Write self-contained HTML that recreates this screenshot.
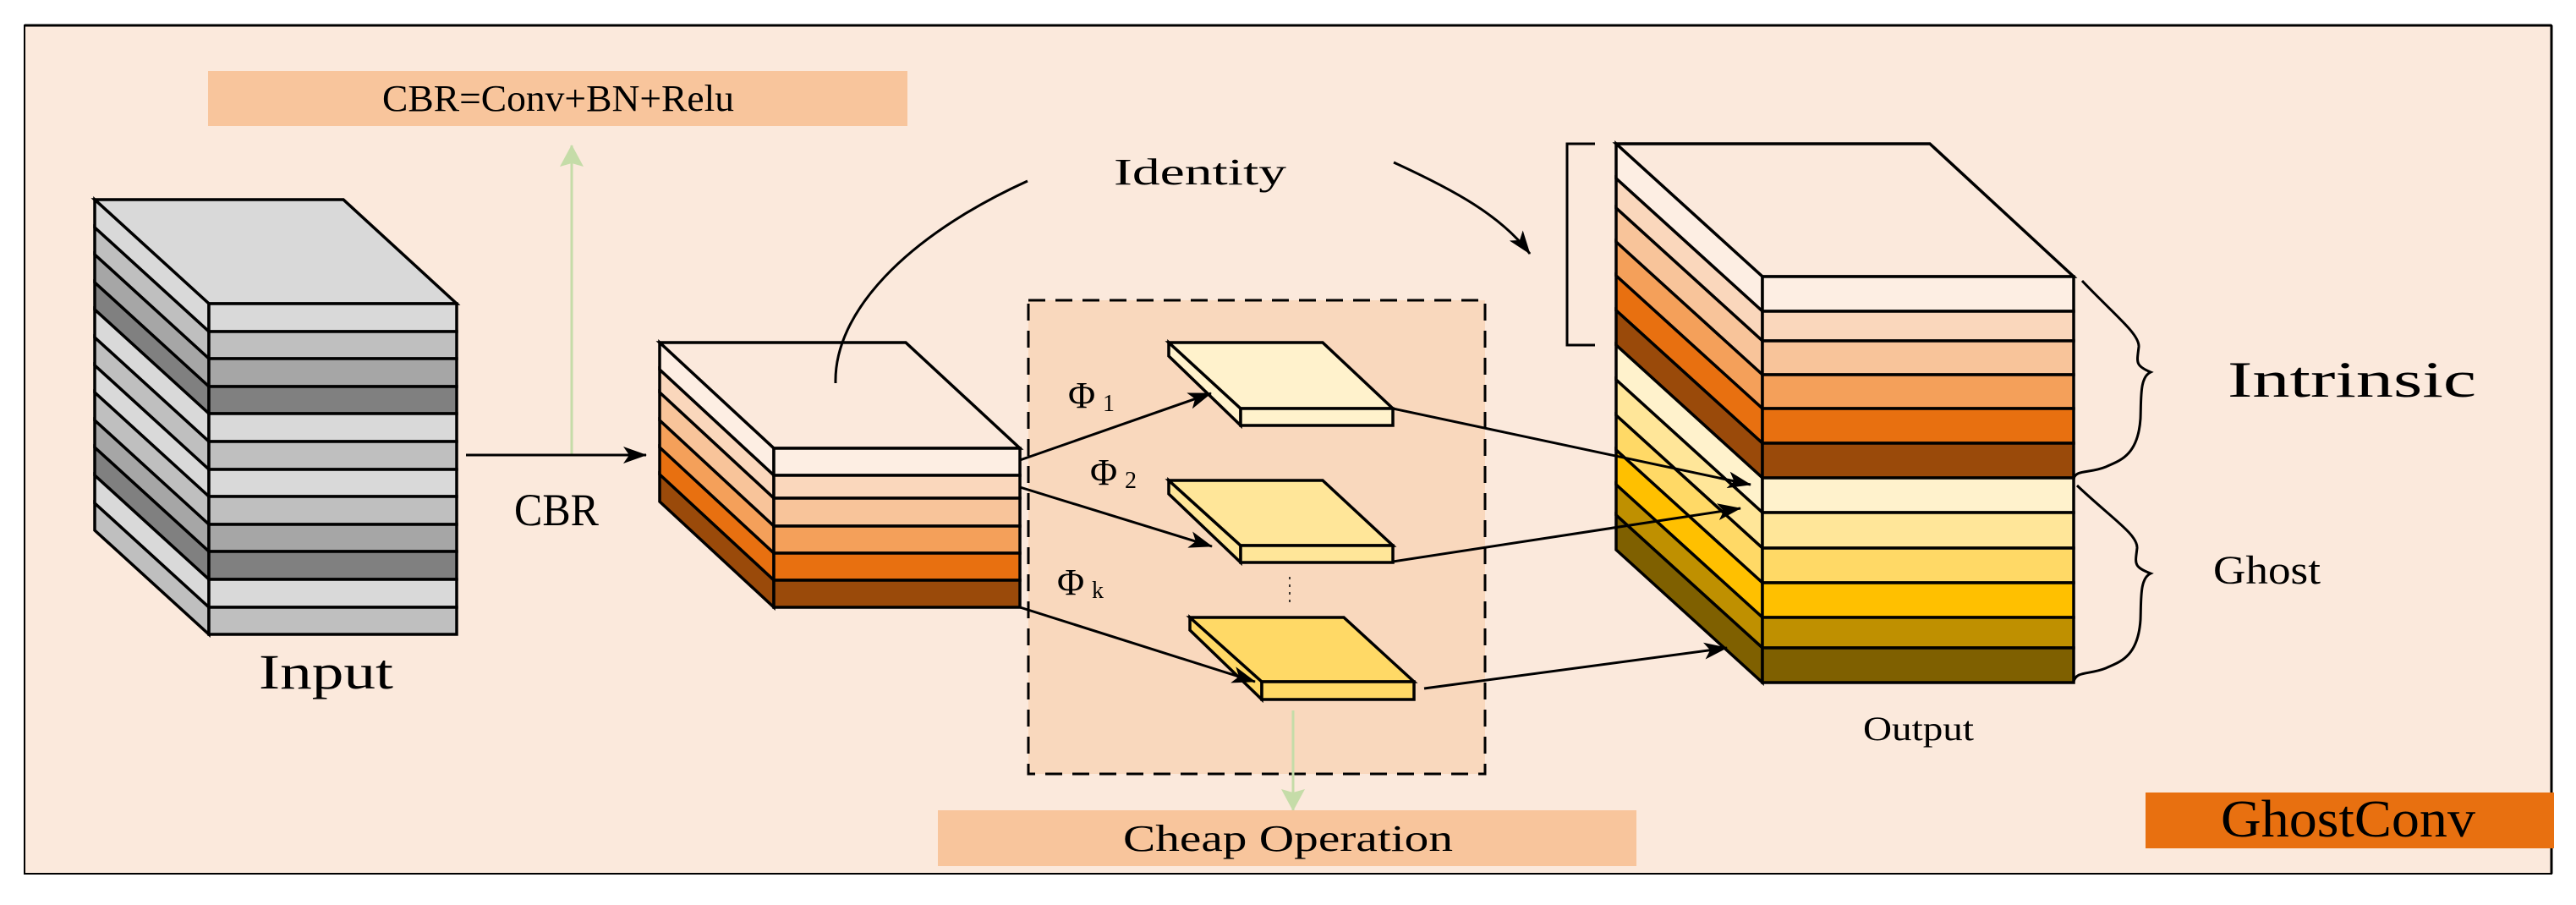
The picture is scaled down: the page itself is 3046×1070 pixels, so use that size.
<!DOCTYPE html>
<html><head><meta charset="utf-8"><style>html,body{margin:0;padding:0;background:#fff}svg{display:block}text{font-family:"Liberation Serif",serif;fill:#000}</style></head>
<body>
<svg width="3046" height="1070" viewBox="0 0 3046 1070" xmlns="http://www.w3.org/2000/svg">
<defs>
<marker id="ah" viewBox="0 0 28 20" refX="27" refY="10" markerWidth="28" markerHeight="20" markerUnits="userSpaceOnUse" orient="auto"><path d="M0,0 L28,10 L0,20 L7,10 Z" fill="#000"/></marker>
<marker id="ag" viewBox="0 0 26 28" refX="25" refY="14" markerWidth="26" markerHeight="28" markerUnits="userSpaceOnUse" orient="auto"><path d="M0,0 L26,14 L0,28 L4,14 Z" fill="#c5dca8"/></marker>
</defs>
<rect x="29" y="30" width="2988" height="1003" fill="#fbe9dc" stroke="#000" stroke-width="2"/>
<line x1="3017" y1="30" x2="3017" y2="1033" stroke="#000" stroke-width="3"/>
<line x1="29" y1="30" x2="3017" y2="30" stroke="#000" stroke-width="3"/>

<rect x="246" y="84" width="827" height="65" fill="#f8c59c"/>
<text x="452" y="131" font-size="44" textLength="416" lengthAdjust="spacingAndGlyphs">CBR=Conv+BN+Relu</text>
<line x1="676" y1="538" x2="676" y2="172" stroke="#c5dca8" stroke-width="3" marker-end="url(#ag)"/>

<g stroke="#000" stroke-width="3.5">
<polygon points="112,236 406,236 540,359 247,359" fill="#d9d9d9"/>
<polygon points="112,236 247,359 247,392 112,269" fill="#d9d9d9"/>
<polygon points="112,269 247,392 247,424 112,301" fill="#bfbfbf"/>
<polygon points="112,301 247,424 247,457 112,334" fill="#a6a6a6"/>
<polygon points="112,334 247,457 247,489 112,366" fill="#808080"/>
<polygon points="112,366 247,489 247,522 112,399" fill="#d9d9d9"/>
<polygon points="112,399 247,522 247,555 112,432" fill="#bfbfbf"/>
<polygon points="112,432 247,555 247,587 112,464" fill="#d9d9d9"/>
<polygon points="112,464 247,587 247,620 112,497" fill="#bfbfbf"/>
<polygon points="112,497 247,620 247,652 112,529" fill="#a6a6a6"/>
<polygon points="112,529 247,652 247,685 112,562" fill="#808080"/>
<polygon points="112,562 247,685 247,718 112,595" fill="#d9d9d9"/>
<polygon points="112,595 247,718 247,750 112,627" fill="#bfbfbf"/>
<rect x="247" y="359" width="293" height="33" fill="#d9d9d9"/>
<rect x="247" y="392" width="293" height="32" fill="#bfbfbf"/>
<rect x="247" y="424" width="293" height="33" fill="#a6a6a6"/>
<rect x="247" y="457" width="293" height="32" fill="#808080"/>
<rect x="247" y="489" width="293" height="33" fill="#d9d9d9"/>
<rect x="247" y="522" width="293" height="33" fill="#bfbfbf"/>
<rect x="247" y="555" width="293" height="32" fill="#d9d9d9"/>
<rect x="247" y="587" width="293" height="33" fill="#bfbfbf"/>
<rect x="247" y="620" width="293" height="32" fill="#a6a6a6"/>
<rect x="247" y="652" width="293" height="33" fill="#808080"/>
<rect x="247" y="685" width="293" height="33" fill="#d9d9d9"/>
<rect x="247" y="718" width="293" height="32" fill="#bfbfbf"/>
</g>
<text x="306" y="814" font-size="58" textLength="159" lengthAdjust="spacingAndGlyphs">Input</text>

<line x1="551" y1="538" x2="764" y2="538" stroke="#000" stroke-width="3" marker-end="url(#ah)"/>
<text x="608" y="621" font-size="54" textLength="100" lengthAdjust="spacingAndGlyphs">CBR</text>

<g stroke="#000" stroke-width="3.5">
<polygon points="780,405 1071,405 1206,530 915,530" fill="#fbe9dc"/>
<polygon points="780,405 915,530 915,562 780,437" fill="#fdeee3"/>
<polygon points="780,437 915,562 915,589 780,464" fill="#fad7bc"/>
<polygon points="780,464 915,589 915,622 780,497" fill="#f8c49a"/>
<polygon points="780,497 915,622 915,654 780,529" fill="#f4a05a"/>
<polygon points="780,529 915,654 915,686 780,561" fill="#e87010"/>
<polygon points="780,561 915,686 915,718 780,593" fill="#9a4a0a"/>
<rect x="915" y="530" width="291" height="32" fill="#fdeee3"/>
<rect x="915" y="562" width="291" height="27" fill="#fad7bc"/>
<rect x="915" y="589" width="291" height="33" fill="#f8c49a"/>
<rect x="915" y="622" width="291" height="32" fill="#f4a05a"/>
<rect x="915" y="654" width="291" height="32" fill="#e87010"/>
<rect x="915" y="686" width="291" height="32" fill="#9a4a0a"/>
</g>

<path d="M988,453 C986,370 1070,280 1215,214" fill="none" stroke="#000" stroke-width="3"/>
<text x="1317" y="218" font-size="44" textLength="204" lengthAdjust="spacingAndGlyphs">Identity</text>
<path d="M1648,192 C1720,225 1775,255 1809,300" fill="none" stroke="#000" stroke-width="3" marker-end="url(#ah)"/>

<rect x="1216" y="355" width="540" height="560" fill="#f9d8bd" stroke="#000" stroke-width="3" stroke-dasharray="20,12"/>

<g stroke="#000" stroke-width="3.5">
<polygon points="1382,405 1382,421 1467,503 1467,483" fill="#fff2cc"/>
<polygon points="1382,405 1564,405 1647,483 1467,483" fill="#fff2cc"/>
<rect x="1467" y="483" width="180" height="20" fill="#fff2cc"/>
<polygon points="1382,568 1382,584 1467,665 1467,645" fill="#ffe699"/>
<polygon points="1382,568 1564,568 1647,645 1467,645" fill="#ffe699"/>
<rect x="1467" y="645" width="180" height="20" fill="#ffe699"/>
<polygon points="1407,730 1407,745 1492,827 1492,806" fill="#ffd966"/>
<polygon points="1407,730 1589,730 1672,806 1492,806" fill="#ffd966"/>
<rect x="1492" y="806" width="180" height="21" fill="#ffd966"/>
</g>
<line x1="1525" y1="682" x2="1525" y2="712" stroke="#000" stroke-width="1.5" stroke-dasharray="3,6"/>

<text x="1263" y="482" font-size="44">Φ</text><text x="1304" y="486" font-size="28">1</text>
<text x="1289" y="573" font-size="44">Φ</text><text x="1330" y="577" font-size="28">2</text>
<text x="1250" y="703" font-size="44">Φ</text><text x="1291" y="707" font-size="28">k</text>

<g stroke="#000" stroke-width="3" fill="none">
<line x1="1206" y1="544" x2="1432" y2="465" marker-end="url(#ah)"/>
<line x1="1206" y1="576" x2="1433" y2="646" marker-end="url(#ah)"/>
<line x1="1206" y1="718" x2="1484" y2="806" marker-end="url(#ah)"/>
</g>

<line x1="1529" y1="840" x2="1529" y2="958" stroke="#c5dca8" stroke-width="3" marker-end="url(#ag)"/>
<rect x="1109" y="958" width="826" height="66" fill="#f8c59c"/>
<text x="1328" y="1006" font-size="44" textLength="390" lengthAdjust="spacingAndGlyphs">Cheap Operation</text>

<path d="M1886,170 L1853,170 L1853,408 L1886,408" fill="none" stroke="#000" stroke-width="3"/>

<g stroke="#000" stroke-width="3.5">
<polygon points="1911,170 2282,170 2452,327 2084,327" fill="#fbe9dc"/>
<polygon points="1911,170 2084,327 2084,368 1911,211" fill="#fdeee3"/>
<polygon points="1911,211 2084,368 2084,403 1911,246" fill="#fad7bc"/>
<polygon points="1911,246 2084,403 2084,443 1911,286" fill="#f8c49a"/>
<polygon points="1911,286 2084,443 2084,483 1911,326" fill="#f4a05a"/>
<polygon points="1911,326 2084,483 2084,524 1911,367" fill="#e87010"/>
<polygon points="1911,367 2084,524 2084,565 1911,408" fill="#9a4a0a"/>
<polygon points="1911,408 2084,565 2084,606 1911,449" fill="#fff2cc"/>
<polygon points="1911,449 2084,606 2084,648 1911,491" fill="#ffe699"/>
<polygon points="1911,491 2084,648 2084,689 1911,532" fill="#ffd966"/>
<polygon points="1911,532 2084,689 2084,730 1911,573" fill="#ffc000"/>
<polygon points="1911,573 2084,730 2084,766 1911,609" fill="#bf9000"/>
<polygon points="1911,609 2084,766 2084,807 1911,650" fill="#7f6000"/>
<rect x="2084" y="327" width="368" height="41" fill="#fdeee3"/>
<rect x="2084" y="368" width="368" height="35" fill="#fad7bc"/>
<rect x="2084" y="403" width="368" height="40" fill="#f8c49a"/>
<rect x="2084" y="443" width="368" height="40" fill="#f4a05a"/>
<rect x="2084" y="483" width="368" height="41" fill="#e87010"/>
<rect x="2084" y="524" width="368" height="41" fill="#9a4a0a"/>
<rect x="2084" y="565" width="368" height="41" fill="#fff2cc"/>
<rect x="2084" y="606" width="368" height="42" fill="#ffe699"/>
<rect x="2084" y="648" width="368" height="41" fill="#ffd966"/>
<rect x="2084" y="689" width="368" height="41" fill="#ffc000"/>
<rect x="2084" y="730" width="368" height="36" fill="#bf9000"/>
<rect x="2084" y="766" width="368" height="41" fill="#7f6000"/>
</g>

<g stroke="#000" stroke-width="3" fill="none">
<line x1="1647" y1="483" x2="2070" y2="573" marker-end="url(#ah)"/>
<line x1="1647" y1="664" x2="2058" y2="601" marker-end="url(#ah)"/>
<line x1="1684" y1="814" x2="2042" y2="766" marker-end="url(#ah)"/>
</g>

<g fill="none" stroke="#000" stroke-width="3">
<path d="M2462,332 C2500,372 2530,395 2529,410 C2527,428 2524,432 2543,440 C2530,446 2532,470 2531,495 C2528,540 2505,545 2490,552 C2470,560 2455,555 2452,566"/>
<path d="M2456,574 C2496,612 2528,632 2527,648 C2525,666 2522,670 2543,678 C2530,684 2532,708 2531,733 C2528,778 2505,783 2490,790 C2470,798 2455,793 2452,806"/>
</g>
<text x="2634" y="469" font-size="60" textLength="294" lengthAdjust="spacingAndGlyphs">Intrinsic</text>
<text x="2617" y="690" font-size="48" textLength="127" lengthAdjust="spacingAndGlyphs">Ghost</text>
<text x="2203" y="875" font-size="40" textLength="131" lengthAdjust="spacingAndGlyphs">Output</text>

<rect x="2537" y="937" width="483" height="66" fill="#e87010"/>
<text x="2626" y="989" font-size="62" textLength="301" lengthAdjust="spacingAndGlyphs">GhostConv</text>
</svg>
</body></html>
